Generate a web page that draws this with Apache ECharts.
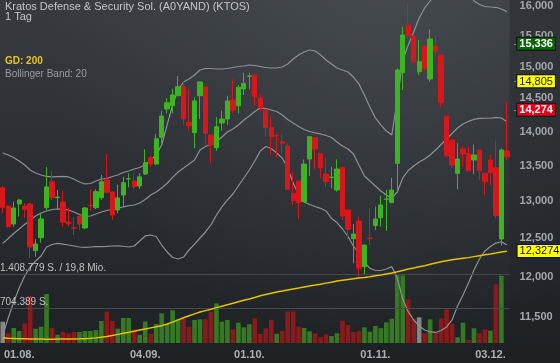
<!DOCTYPE html>
<html><head><meta charset="utf-8">
<script src="https://cdn.jsdelivr.net/npm/echarts@6/dist/echarts.min.js"></script>
<style>
html,body{margin:0;padding:0;width:560px;height:363px;overflow:hidden;background:#26292d;}
#chart{width:560px;height:363px;
background: radial-gradient(circle 340px at 68% 0%, rgba(95,100,105,0.35), rgba(95,100,105,0) 100%), linear-gradient(to bottom, #373b3f 0%, #2b2f33 45%, #1e2124 100%);}
</style></head><body><div id="chart"></div>
<script>
const dates = ['29.07.','30.07.','31.07.','01.08.','02.08.','05.08.','06.08.','07.08.','08.08.','09.08.',
'12.08.','13.08.','14.08.','15.08.','16.08.','19.08.','20.08.','21.08.','22.08.','23.08.',
'26.08.','27.08.','28.08.','29.08.','30.08.','03.09.','04.09.','05.09.','06.09.','09.09.',
'10.09.','11.09.','12.09.','13.09.','16.09.','17.09.','18.09.','19.09.','20.09.','23.09.',
'24.09.','25.09.','26.09.','27.09.','30.09.','01.10.','02.10.','03.10.','04.10.','07.10.',
'08.10.','09.10.','10.10.','11.10.','14.10.','15.10.','16.10.','17.10.','18.10.','21.10.',
'22.10.','23.10.','24.10.','25.10.','28.10.','29.10.','30.10.','31.10.','01.11.','04.11.',
'05.11.','06.11.','07.11.','08.11.','11.11.','12.11.','13.11.','14.11.','15.11.','18.11.',
'19.11.','20.11.','21.11.','22.11.','25.11.','26.11.','27.11.','29.11.','02.12.','03.12.',
'04.12.','05.12.','06.12.'];
const xTickLabels = ['01.08.','04.09.','01.10.','01.11.','03.12.'];

const open = [13189,12935,12690,12963,12935,12963,12336,12507,12912,13273,
13050,12990,12717,12640,12798,12637,12942,12912,13050,13297,
13129,12880,13087,13312,13283,13213,13382,13616,13524,13914,
14338,14388,14542,14681,14137,13982,14542,14677,13948,13761,
14127,14187,14476,14388,14646,14845,14865,14507,14323,14057,
13937,13849,13785,13111,13283,12995,13597,13908,13674,13382,
13333,13157,13477,12880,12493,12731,12128,12502,12668,12775,
13028,12981,13535,14901,15675,15494,14917,15330,14802,15330,
15184,14232,13874,13392,13742,13679,13582,13727,13392,13582,
13472,12489,13713];
const close = [12912,12654,12908,13018,12890,12384,12423,12758,13199,13050,
13058,12713,12690,12633,12690,12908,12938,13133,13273,13125,
12812,13046,13259,13316,13203,13344,13543,13524,13893,14232,
14434,14553,14681,14187,14086,14461,14755,13973,13800,14071,
14187,14461,14323,14672,14735,14850,14527,14358,14057,13923,
13933,13825,13167,13008,12981,13524,13923,13742,13472,13273,
13337,13453,12798,12619,12556,12107,12410,12498,12758,12949,
13032,13157,14944,15510,15500,15077,15077,14971,15444,15237,
14434,13645,13510,13597,13669,13429,13655,13429,13273,13401,
12803,13727,13630];
const high = [13213,12945,12995,13032,12977,12977,12489,12839,13482,13425,
13157,13143,12912,12785,12800,12922,13171,13167,13368,13669,
13135,13231,13344,13392,13392,13396,13737,13645,13963,14312,
14502,14650,14849,14766,14646,14517,14760,14680,13950,14212,
14312,14542,14797,14708,14901,14901,14870,14564,14325,14221,
13973,13958,13825,13415,13285,13592,13925,13910,13676,13607,
13486,13592,13480,12882,12690,12789,12412,12903,12926,13077,
13157,13330,14971,15647,16041,15497,15428,15333,15604,15499,
15186,14235,13876,13825,13790,13775,13810,13729,13394,13655,
13864,13752,14450];
const low = [12835,12637,12654,12789,12775,12240,12257,12440,12880,13018,
12894,12654,12654,12543,12610,12619,12870,12890,13018,13111,
12744,12835,12926,13195,13167,13171,13368,13486,13506,13825,
14273,14273,14537,14097,14012,13752,14187,13800,13535,13717,
14012,14097,14273,14273,14553,14641,14384,14297,13923,13655,
13622,13680,13165,12949,12754,12993,13354,13449,13321,13195,
13181,13133,12744,12485,12172,11979,12021,12410,12610,12654,
12597,12980,13111,14630,15439,15051,14865,14933,14759,15157,
14364,13622,13467,13167,13486,13415,13382,13297,13087,13227,
12767,12401,13582];
const volume = [435000,198000,306000,245000,402000,960000,292000,333000,1000000,306000,
170000,225000,198000,225000,225000,245000,245000,265000,449000,640000,
449000,292000,510000,510000,279000,170000,442000,190000,388000,606000,
388000,667000,483000,490000,333000,470000,483000,483000,633000,810000,
435000,470000,279000,415000,320000,381000,504000,184000,300000,476000,
190000,245000,647000,647000,333000,306000,239000,198000,116000,178000,
143000,198000,455000,367000,225000,245000,320000,231000,347000,300000,
422000,496000,1402000,1380000,892000,490000,524000,198000,483000,231000,
504000,688000,388000,116000,415000,61000,300000,198000,279000,251000,
1198000,1374000,0];
const gd200 = [11243,11240,11238,11236,11235,11233,11232,11231,11230,11230,
11231,11231,11232,11233,11234,11236,11240,11245,11252,11262,
11274,11287,11300,11312,11325,11339,11352,11365,11378,11392,
11412,11435,11462,11488,11512,11535,11558,11575,11592,11612,
11630,11648,11666,11685,11703,11720,11738,11760,11775,11790,
11805,11818,11832,11845,11857,11870,11882,11893,11905,11918,
11930,11945,11955,11965,11974,11982,11990,12000,12012,12022,
12035,12048,12062,12080,12098,12112,12127,12140,12158,12175,
12192,12205,12216,12226,12236,12245,12258,12270,12282,12293,
12305,12318,12327.4];
const bbUpper = [13684,13655,13619,13568,13510,13439,13396,13368,13347,13340,
13344,13347,13340,13311,13269,13241,13248,13283,13311,13318,
13347,13368,13403,13425,13453,13475,13517,13582,13655,13800,
14097,14399,14630,14755,14802,14865,14944,14968,14968,14960,
14960,14968,14984,15000,15008,15024,15016,15000,14984,14976,
14976,14992,15040,15120,15184,15233,15265,15249,15184,15104,
15040,14976,14944,14913,14833,14724,14553,14369,14202,14097,
14007,13948,14476,15104,15346,15559,15793,15961,16080,16200,
16303,16373,16408,16390,16338,16234,16080,16020,15986,15978,
15973,15944,15899];
const bbMiddle = [12432,12496,12563,12623,12684,12744,12798,12839,12867,12887,
12894,12891,12880,12853,12819,12792,12798,12826,12853,12873,
12887,12901,12924,12938,12949,12977,13025,13087,13129,13185,
13251,13333,13411,13467,13524,13582,13727,13778,13815,13849,
13918,13992,14037,14097,14172,14232,14300,14354,14346,14323,
14300,14247,14180,14127,14075,14030,14000,13978,13963,13941,
13911,13845,13785,13742,13669,13510,13354,13283,13213,13143,
13087,13041,13129,13326,13432,13496,13553,13597,13655,13727,
13807,13889,13970,14052,14112,14150,14180,14195,14198,14198,
14210,14202,14146];
const bbLower = [11279,11485,11682,11856,12008,12124,12201,12266,12384,12417,
12432,12423,12410,12397,12384,12380,12384,12388,12390,12393,
12397,12400,12394,12384,12397,12463,12530,12543,12523,12410,
12319,12247,12227,12253,12345,12423,12503,12583,12677,12812,
12922,13018,13101,13213,13325,13439,13568,13713,13778,13749,
13684,13611,13467,13255,13087,12990,12956,12928,12903,12867,
12765,12710,12623,12523,12397,12292,12188,12107,12079,12079,
12098,12128,11983,11719,11559,11461,11388,11340,11316,11310,
11334,11376,11461,11633,11769,11919,12085,12227,12332,12390,
12436,12453,12410];
const yTicks = [11500,12000,12500,13000,13500,14000,14500,15000,15500,16000];
const volTicks = [704389, 1408779];
const volTickLabels = ['704.389 S.', '1.408.779 S. / 19,8 Mio.'];
const badgeValues = [15336, 14805, 14274];
const badgeTexts = ['15,336', '14,805', '14,274'];
const gdBadgeText = '12,3274';

const priceMin = 11184, priceMax = 16097, volMax = 1408779;
const L = Math.log;
const FONT = '"Liberation Sans", Arial, Helvetica, sans-serif';
const upC = '#3cb521', dnC = '#d7171c';
const volUp = '#357a23', volDn = '#8a1a1c', volFlat = '#868686';

const candle = dates.map((d, i) => [L(open[i]), L(close[i]), L(low[i]), L(high[i])]);
const volData = volume.map((v, i) => {
  let c = volFlat;
  if (i > 0 && close[i] > close[i-1]) c = volUp;
  else if (i > 0 && close[i] < close[i-1]) c = volDn;
  return {value: v, itemStyle: {color: c}};
});

const badgeStyles = [
  {bg:'#0b650b', fg:'#ffffff', w:'bold'},
  {bg:'#ffff00', fg:'#222222', w:'normal'},
  {bg:'#e2001a', fg:'#ffffff', w:'bold'}
];
const hiddenLine = {color:'rgba(0,0,0,0)', width:1, opacity:1};
const badgeMarks = badgeValues.map((v, k) => ({
  yAxis: L(v),
  label: {
    show: true, position: 'end', distance: 4,
    formatter: '{t|-}{b|' + badgeTexts[k] + '}',
    rich: {
      t: {color:'#8e9296', fontSize:11, fontFamily:FONT},
      b: {backgroundColor: badgeStyles[k].bg, color: badgeStyles[k].fg, fontWeight: badgeStyles[k].w,
          fontSize:11, fontFamily:FONT, padding:[1,2,0,2], lineHeight:11, borderColor:'#111', borderWidth:1}
    }
  }
}));

const chart = echarts.init(document.getElementById('chart'), null, {renderer:'canvas', width:560, height:363});
const plotW = 509.6;
const option = {
  animation: false,
  backgroundColor: 'transparent',
  grid: [
    {left: 0, top: 0, width: plotW, bottom: 20},
    {left: 0, top: 274, width: plotW, bottom: 20}
  ],
  xAxis: [
    {type:'category', gridIndex:0, data:dates, boundaryGap:true,
     axisLine:{show:false}, axisTick:{show:false}, splitLine:{show:false},
     axisLabel:{show:true, interval:(idx, val) => xTickLabels.includes(val), color:'#aeb1b4',
       fontSize:11, fontWeight:'bold', fontFamily:FONT, margin:6}},
    {type:'category', gridIndex:1, data:dates, boundaryGap:true, show:false}
  ],
  yAxis: [
    {type:'value', gridIndex:0, position:'right', min:L(priceMin), max:L(priceMax),
     axisLine:{show:false}, axisTick:{show:false}, splitLine:{show:false},
     axisLabel:{customValues: yTicks.map(L), formatter: v => Math.round(Math.exp(v)).toLocaleString('en-US'),
       color:'#a3a7ab', fontSize:11, fontWeight:'bold', fontFamily:FONT, margin:10}},
    {type:'value', gridIndex:1, min:0, max:volMax, show:false, splitLine:{show:false}}
  ],
  graphic: [
    {type:'rect', silent:true, z:0, shape:{x:plotW, y:0, width:560-plotW, height:363},
     style:{fill:{type:'linear', x:0, y:0, x2:0, y2:1, colorStops:[{offset:0,color:'rgba(0,0,0,0.2)'},{offset:1,color:'rgba(0,0,0,0)'}]}}},
    {type:'text', x:5, y:6.5, silent:true, style:{text:'Kratos Defense & Security Sol. (A0YAND) (KTOS)', fill:'#c3c6c9', font:'11px '+FONT, verticalAlign:'middle'}},
    {type:'text', x:5, y:16.5, silent:true, style:{text:'1 Tag', fill:'#c3c6c9', font:'11px '+FONT, verticalAlign:'middle'}},
    {type:'text', x:5, y:61, silent:true, style:{text:'GD: 200', fill:'#e6c61c', font:'bold 10px '+FONT, verticalAlign:'middle'}},
    {type:'text', x:5, y:74.5, silent:true, style:{text:'Bollinger Band: 20', fill:'#9a9da0', font:'10px '+FONT, verticalAlign:'middle'}}
  ],
  series: [
    {type:'bar', name:'Volumen', xAxisIndex:1, yAxisIndex:1, data:volData, barWidth:4.6, z:1, silent:true,
     markLine:{silent:true, symbol:'none', animation:false,
       lineStyle:{color:'#464a4e', width:1, type:'solid'},
       label:{show:true, position:'insideStartTop', distance:[0,1], color:'#bfc1c3', fontSize:10, fontFamily:FONT},
       data: volTicks.map((v, k) => ({yAxis:v, label:{formatter: volTickLabels[k]}}))}},
    {type:'line', name:'BB oben', xAxisIndex:0, yAxisIndex:0, data:bbUpper.map(L), symbol:'none', silent:true,
     lineStyle:{color:'#8d9094', width:1.2}, z:3},
    {type:'line', name:'BB Mitte', xAxisIndex:0, yAxisIndex:0, data:bbMiddle.map(L), symbol:'none', silent:true,
     lineStyle:{color:'#8d9094', width:1.2}, z:3},
    {type:'line', name:'BB unten', xAxisIndex:0, yAxisIndex:0, data:bbLower.map(L), symbol:'none', silent:true,
     lineStyle:{color:'#8d9094', width:1.2}, z:3},
    {type:'candlestick', name:'KTOS', xAxisIndex:0, yAxisIndex:0, data:candle, barWidth:4.8, z:4, silent:true,
     itemStyle:{color:upC, color0:dnC, borderColor:upC, borderColor0:dnC, borderWidth:1},
     markLine:{silent:true, symbol:'none', animation:false, lineStyle:hiddenLine, data:badgeMarks}},
    {type:'line', name:'GD 200', xAxisIndex:0, yAxisIndex:0, data:gd200.map(L), symbol:'none', silent:true,
     lineStyle:{color:'#e6c200', width:1.5}, z:5,
     markLine:{silent:true, symbol:'none', animation:false, lineStyle:hiddenLine,
       data:[{yAxis:L(gd200[gd200.length-1]), label:{show:true, position:'end', distance:8,
         formatter:'{b|' + gdBadgeText + '}',
         rich:{b:{backgroundColor:'#ffff00', color:'#111', fontSize:11, fontFamily:FONT, padding:[1,2,0,2], lineHeight:11, borderColor:'#111', borderWidth:1}}}}]}}
  ]
};
chart.setOption(option);
</script></body></html>
